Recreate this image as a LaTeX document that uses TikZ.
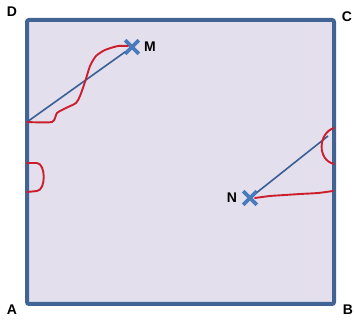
\documentclass[tikz,border=0pt]{standalone}
\usepackage{fontspec}
\setmainfont{Liberation Sans}
\usetikzlibrary{shapes.misc, positioning}
\definecolor{myframe}{RGB}{66,100,148}
\definecolor{myfill}{RGB}{228,223,236}
\definecolor{mycross}{RGB}{72,122,188}
\definecolor{myseg}{RGB}{58,94,150}
\definecolor{myred}{RGB}{205,30,45}
\tikzset{
  corner/.style={font=\bfseries\fontsize{14}{14}\selectfont, inner sep=0pt},
  ptmark/.style={cross out, draw=mycross, line width=3.6pt, minimum size=10pt, inner sep=0pt},
  seg/.style={draw=myseg, line width=1.6pt},
  redpath/.style={draw=myred, line width=1.9pt, line join=round, line cap=round}
}

\begin{document}
\begin{tikzpicture}[x=1pt, y=-1pt]
  \useasboundingbox (0,0) rectangle (354,320);
  % Square ABCD
  \coordinate (A) at (27,304);
  \coordinate (B) at (334,304);
  \coordinate (C) at (334,20);
  \coordinate (D) at (27,20);
  \draw[myframe, fill=myfill, line width=4pt, rounded corners=2pt] (A) rectangle (C);
  \node[corner] (lA) at (12,310) {A};
  \node[corner] (lB) at (348,310) {B};
  \node[corner] (lC) at (347,17) {C};
  \node[corner] (lD) at (12,12) {D};

  % Points M and N
  \node[ptmark] (M) at (132,47) {};
  \node[corner, right=5pt of M] (lM) {M};
  \node[ptmark] (N) at (250,198) {};
  \node[corner, left=6pt of N] (lN) {N};

  % Ends on the sides
  \coordinate (P) at (27,122);
  \coordinate (Q) at (328,136);

  % Straight segments
  \draw[seg] (M) -- (P);
  \draw[seg] (N) -- (Q);

  % Red paths
  \draw[redpath] plot[smooth, tension=0.4] coordinates {(27,122) (52,122) (57,113) (66,108)
    (76,103) (80,96) (85,82) (90,66) (96,56) (105,50) (118,46) (128,46)};
  \draw[redpath] (27,163) -- (37,163) .. controls (46,164) and (46,190) .. (37,191) -- (27,192);
  \draw[redpath] (334,128) .. controls (318,133) and (317,160) .. (334,164);
  \draw[redpath] plot[smooth, tension=0.4] coordinates {(255,198) (270,196) (285,195)
    (300,194) (318,193) (333,191)};
\end{tikzpicture}
\end{document}
